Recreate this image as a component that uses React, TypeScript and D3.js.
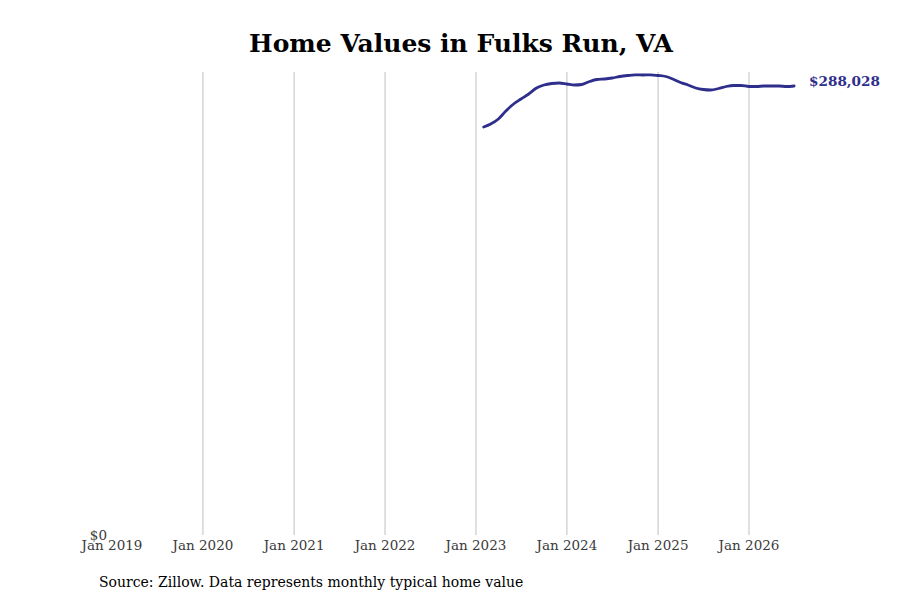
import React from "react";
import * as d3 from "d3";

const startMonth = "2023-02";
const values: number[] = [
  261720, 263644, 266852, 271983, 276474, 279681, 282888, 286737, 288662, 289624, 289945,
  289303, 288662, 288982, 290907, 292190, 292510, 293152, 294114, 294755, 295204, 295076,
  295204, 294755, 294114, 292510, 290265, 288662, 286737, 285775, 285454, 286417, 287700,
  288341, 288341, 287700, 287700, 288020, 288020, 288020, 287700, 288028,
];
const tickYears: number[] = [2019, 2020, 2021, 2022, 2023, 2024, 2025, 2026];
const title = "Home Values in Fulks Run, VA";
const source = "Source: Zillow. Data represents monthly typical home value";
const yMax = 297000;

export default function App() {
  const W = 900, H = 600;
  const x = d3.scaleTime()
    .domain([new Date(2019, 0, 1), new Date(2026, 0, 1)])
    .range([112, 749]);
  const y = d3.scaleLinear().domain([0, yMax]).range([535, 72]);
  const [sy, sm] = startMonth.split("-").map(Number);
  const data = values.map((v, i) => ({ d: new Date(sy, sm - 1 + i, 1), v }));
  const line = d3.line<{ d: Date; v: number }>()
    .x((p) => x(p.d))
    .y((p) => y(p.v))
    .curve(d3.curveMonotoneX);
  const last = data[data.length - 1];
  const fmt = d3.format("$,.0f");
  return (
    <svg width={W} height={H} style={{ position: "absolute", left: 0, top: 0, background: "#fff" }}
      fontFamily="'DejaVu Serif', serif">
      <text x={461} y={52} textAnchor="middle" fontSize={25} fontWeight="bold" fill="#000">{title}</text>
      {tickYears.map((yr) => {
        const xx = x(new Date(yr, 0, 1));
        return (
          <g key={yr}>
            {yr !== 2019 && <line x1={xx} x2={xx} y1={72} y2={535} stroke="#c0c0c0" strokeWidth={1} />}
            <text x={xx} y={550} textAnchor="middle" fontSize={13.5} fill="#3a3a3a">Jan {yr}</text>
          </g>
        );
      })}
      <text x={107} y={540} textAnchor="end" fontSize={13.5} fill="#3a3a3a">{fmt(0)}</text>
      <path d={line(data) || ""} fill="none" stroke="#2e2e8c" strokeWidth={2.8} strokeLinejoin="round" strokeLinecap="round" />
      <text x={809} y={86} fontSize={13.6} fontWeight="bold" fill="#2e2e8c">{fmt(last.v)}</text>
      <text x={99} y={587} fontSize={14} fill="#000">{source}</text>
    </svg>
  );
}
